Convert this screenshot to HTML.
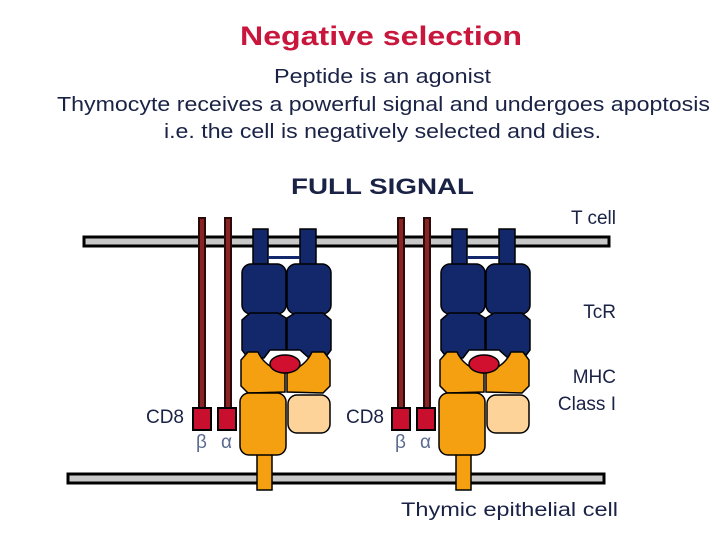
<!DOCTYPE html>
<html><head><meta charset="utf-8"><style>
html,body{margin:0;padding:0;background:#fff;}
svg{display:block}
text{font-family:"Liberation Sans",Arial,sans-serif;}
</style></head><body>
<svg width="720" height="540" viewBox="0 0 720 540" xmlns="http://www.w3.org/2000/svg">
<text x="240" y="45" font-size="27" font-weight="bold" fill="#c8163c" textLength="282" lengthAdjust="spacingAndGlyphs">Negative selection</text>
<g fill="#1a2246" font-size="20">
<text x="274" y="83" textLength="217" lengthAdjust="spacingAndGlyphs">Peptide is an agonist</text>
<text x="57" y="111" textLength="653" lengthAdjust="spacingAndGlyphs">Thymocyte receives a powerful signal and undergoes apoptosis</text>
<text x="164" y="138" textLength="437" lengthAdjust="spacingAndGlyphs">i.e. the cell is negatively selected and dies.</text>
</g>
<text x="291" y="194" font-size="22" font-weight="bold" fill="#1a2246" textLength="183" lengthAdjust="spacingAndGlyphs">FULL SIGNAL</text>
<g fill="#1a2246" font-size="19">
<text x="616" y="224" text-anchor="end">T cell</text>
<text x="616" y="318" text-anchor="end">TcR</text>
<text x="616" y="383" text-anchor="end">MHC</text>
<text x="616" y="410" text-anchor="end">Class I</text>
<text x="184" y="423" text-anchor="end">CD8</text>
<text x="384" y="423" text-anchor="end">CD8</text>
<text x="401" y="516" textLength="217" lengthAdjust="spacingAndGlyphs">Thymic epithelial cell</text>
</g>
<!-- membranes -->
<rect x="84" y="237" width="525" height="9" fill="#c8c8c8" stroke="#000" stroke-width="3"/>
<rect x="68" y="474" width="536" height="9" fill="#c8c8c8" stroke="#000" stroke-width="3"/>
<defs>
<g id="unit">
  <rect x="199" y="218" width="6" height="192" fill="#8a2424" stroke="#2a0a0a" stroke-width="2"/>
  <rect x="225" y="218" width="6" height="192" fill="#8a2424" stroke="#2a0a0a" stroke-width="2"/>
  <rect x="193" y="408" width="18" height="22" fill="#c8102e" stroke="#000" stroke-width="2"/>
  <rect x="218" y="408" width="18" height="22" fill="#c8102e" stroke="#000" stroke-width="2"/>
  <text x="196" y="448" font-size="19" fill="#5a6a90">β</text>
  <text x="221" y="448" font-size="19" fill="#5a6a90">α</text>
  <!-- orange stalk -->
  <rect x="257" y="452" width="15" height="38" fill="#f5a010" stroke="#000" stroke-width="1.5"/>
  <!-- TCR stalks -->
  <rect x="253" y="229" width="15" height="40" fill="#12286a" stroke="#000" stroke-width="1.5"/>
  <rect x="300" y="229" width="16" height="40" fill="#12286a" stroke="#000" stroke-width="1.5"/>
  <rect x="268" y="256" width="32" height="3" fill="#12286a"/>
  <!-- blue domains -->
  <rect x="242" y="264" width="44" height="50" rx="9" fill="#12286a" stroke="#000" stroke-width="1.5"/>
  <rect x="287" y="264" width="44" height="50" rx="9" fill="#12286a" stroke="#000" stroke-width="1.5"/>
  <path d="M250 313 H278 L286 318 L286 350 L270 350 L264 358 L248 358 L242 350 L242 320 Z" fill="#12286a" stroke="#000" stroke-width="1.5"/>
  <path d="M295 313 H323 L331 320 L331 350 L325 358 L309 358 L300 350 L287 350 L287 318 Z" fill="#12286a" stroke="#000" stroke-width="1.5"/>
  <!-- orange upper -->
  <path d="M248 352 L258 352 Q264 366 284 373 L285 373 L285 392 L248 393 L241 386 L241 360 Z" fill="#f5a010" stroke="#000" stroke-width="1.5"/>
  <path d="M287 373 Q306 366 312 352 L324 352 L330 360 L330 386 L323 393 L287 392 Z" fill="#f5a010" stroke="#000" stroke-width="1.5"/>
  <ellipse cx="285" cy="364" rx="15" ry="9" fill="#d0102e" stroke="#000" stroke-width="1.5"/>
  <!-- orange lower -->
  <rect x="240" y="393" width="46" height="62" rx="9" fill="#f5a010" stroke="#000" stroke-width="1.5"/>
  <rect x="288" y="395" width="42" height="38" rx="9" fill="#fdd39a" stroke="#000" stroke-width="1.5"/>
</g>
</defs>
<use href="#unit"/>
<use href="#unit" transform="translate(199,0)"/>
</svg>
</body></html>
